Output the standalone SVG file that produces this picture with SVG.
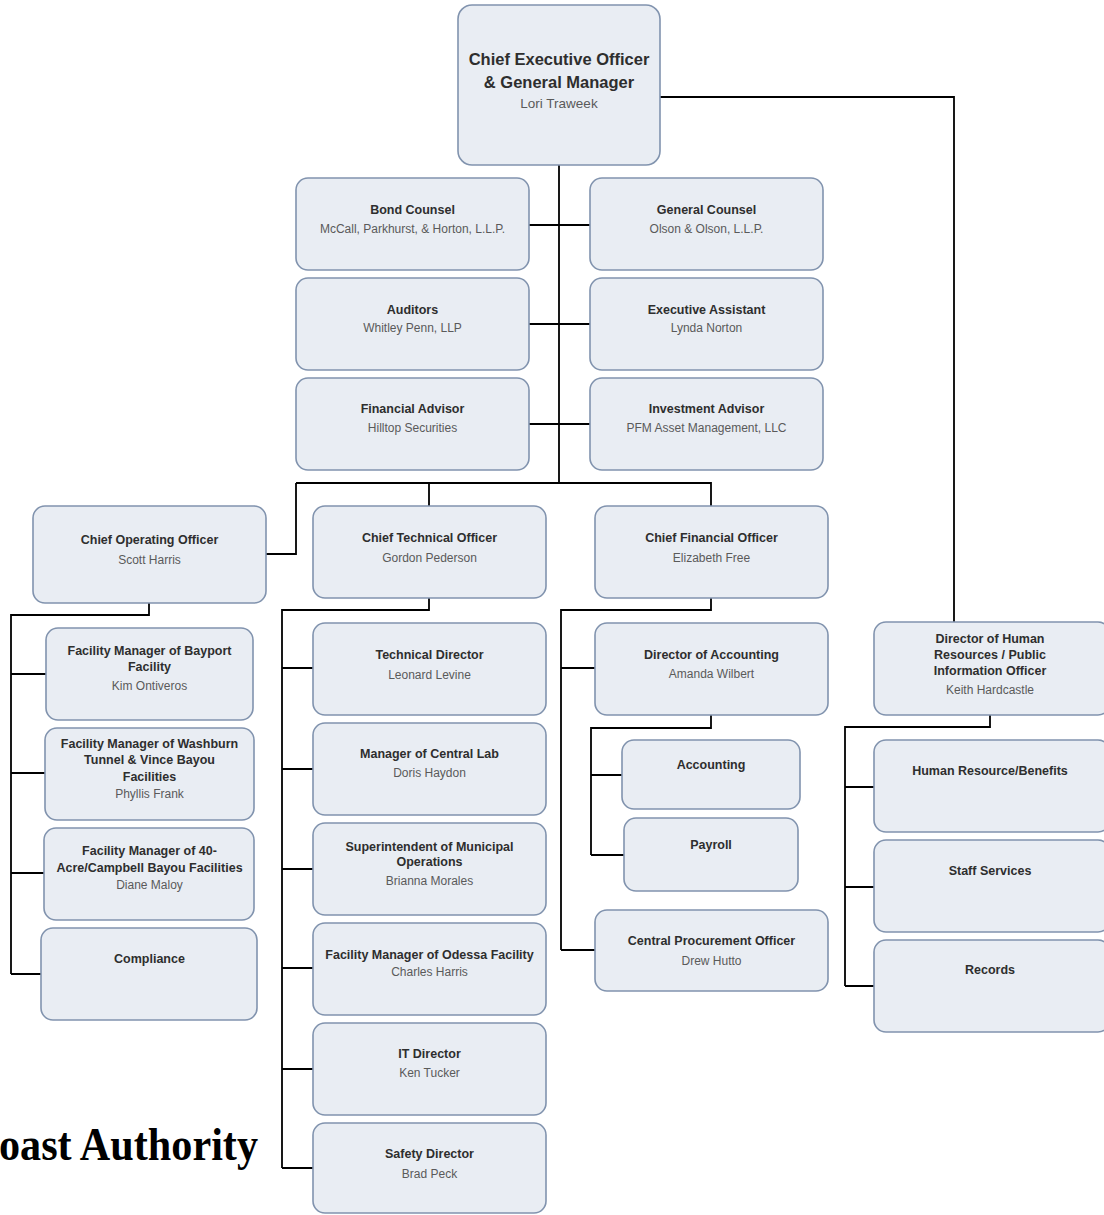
<svg xmlns="http://www.w3.org/2000/svg" width="1104" height="1215" viewBox="0 0 1104 1215">
<style>
.box{fill:#e9edf3;stroke:#8193ae;stroke-width:1.6}
.t{font-family:"Liberation Sans",Arial,sans-serif;font-weight:bold;font-size:12.5px;fill:#2e2e2e;text-anchor:middle}
.n{font-family:"Liberation Sans",Arial,sans-serif;font-size:12px;fill:#5a5a5a;text-anchor:middle}
.ct{font-family:"Liberation Sans",Arial,sans-serif;font-weight:bold;font-size:16.5px;fill:#2e2e2e;text-anchor:middle}
.cn{font-family:"Liberation Sans",Arial,sans-serif;font-size:13.5px;fill:#5a5a5a;text-anchor:middle}
.c{fill:none;stroke:#000;stroke-width:1.8}
</style>
<rect width="1104" height="1215" fill="#fff"/>
<g id="connectors">
<path class="c" d="M559 165V483M660 97H954V622"/>
<path class="c" d="M529 225H590M529 324H590M529 424H590"/>
<path class="c" d="M296 483H711V506M429 483V506M296 483V554H266"/>
<path class="c" d="M149 603V615H11V974M11 674H46M11 773H45M11 873H45M11 974H41"/>
<path class="c" d="M429 598V610H282V1168M282 668H313M282 769H313M282 869H313M282 968H313M282 1069H313M282 1168H313"/>
<path class="c" d="M711 598V610H561V950M561 668H595M561 950H595"/>
<path class="c" d="M711 715V728H591V855M591 775H622M591 855H624"/>
<path class="c" d="M990 715V727H845V986M845 787H874M845 887H874M845 986H874"/>
</g>
<g id="ceo"><rect class="box" x="458" y="5" width="202" height="160" rx="14"/>
<text class="ct" x="559" y="65">Chief Executive Officer</text><text class="ct" x="559" y="88">&amp; General Manager</text><text class="cn" x="559" y="108">Lori Traweek</text></g>
<g id="bond"><rect class="box" x="296" y="178" width="233" height="92" rx="12"/><text class="t" x="412.5" y="213.5">Bond Counsel</text><text class="n" x="412.5" y="233">McCall, Parkhurst, &amp; Horton, L.L.P.</text></g>
<g id="general"><rect class="box" x="590" y="178" width="233" height="92" rx="12"/><text class="t" x="706.5" y="213.5">General Counsel</text><text class="n" x="706.5" y="233">Olson &amp; Olson, L.L.P.</text></g>
<g id="auditors"><rect class="box" x="296" y="278" width="233" height="92" rx="12"/><text class="t" x="412.5" y="314">Auditors</text><text class="n" x="412.5" y="332">Whitley Penn, LLP</text></g>
<g id="execasst"><rect class="box" x="590" y="278" width="233" height="92" rx="12"/><text class="t" x="706.5" y="314">Executive Assistant</text><text class="n" x="706.5" y="332">Lynda Norton</text></g>
<g id="finadv"><rect class="box" x="296" y="378" width="233" height="92" rx="12"/><text class="t" x="412.5" y="413">Financial Advisor</text><text class="n" x="412.5" y="432">Hilltop Securities</text></g>
<g id="invadv"><rect class="box" x="590" y="378" width="233" height="92" rx="12"/><text class="t" x="706.5" y="413">Investment Advisor</text><text class="n" x="706.5" y="432">PFM Asset Management, LLC</text></g>
<g id="coo"><rect class="box" x="33" y="506" width="233" height="97" rx="12"/><text class="t" x="149.5" y="544">Chief Operating Officer</text><text class="n" x="149.5" y="564">Scott Harris</text></g>
<g id="cto"><rect class="box" x="313" y="506" width="233" height="92" rx="12"/><text class="t" x="429.5" y="542">Chief Technical Officer</text><text class="n" x="429.5" y="562">Gordon Pederson</text></g>
<g id="cfo"><rect class="box" x="595" y="506" width="233" height="92" rx="12"/><text class="t" x="711.5" y="542">Chief Financial Officer</text><text class="n" x="711.5" y="562">Elizabeth Free</text></g>
<g id="bayport"><rect class="box" x="46" y="628" width="207" height="92" rx="12"/><text class="t" x="149.5" y="655">Facility Manager of Bayport</text><text class="t" x="149.5" y="671">Facility</text><text class="n" x="149.5" y="690">Kim Ontiveros</text></g>
<g id="washburn"><rect class="box" x="45" y="728" width="209" height="92" rx="12"/><text class="t" x="149.5" y="748">Facility Manager of Washburn</text><text class="t" x="149.5" y="764">Tunnel &amp; Vince Bayou</text><text class="t" x="149.5" y="781">Facilities</text><text class="n" x="149.5" y="798">Phyllis Frank</text></g>
<g id="acre40"><rect class="box" x="44" y="828" width="210" height="92" rx="12"/><text class="t" x="149.5" y="855">Facility Manager of 40-</text><text class="t" x="149.5" y="872">Acre/Campbell Bayou Facilities</text><text class="n" x="149.5" y="889">Diane Maloy</text></g>
<g id="compliance"><rect class="box" x="41" y="928" width="216" height="92" rx="12"/><text class="t" x="149.5" y="963">Compliance</text></g>
<g id="techdir"><rect class="box" x="313" y="623" width="233" height="92" rx="12"/><text class="t" x="429.5" y="659">Technical Director</text><text class="n" x="429.5" y="679">Leonard Levine</text></g>
<g id="centrallab"><rect class="box" x="313" y="723" width="233" height="92" rx="12"/><text class="t" x="429.5" y="758">Manager of Central Lab</text><text class="n" x="429.5" y="777">Doris Haydon</text></g>
<g id="superintendent"><rect class="box" x="313" y="823" width="233" height="92" rx="12"/><text class="t" x="429.5" y="851">Superintendent of Municipal</text><text class="t" x="429.5" y="866">Operations</text><text class="n" x="429.5" y="885">Brianna Morales</text></g>
<g id="odessa"><rect class="box" x="313" y="923" width="233" height="92" rx="12"/><text class="t" x="429.5" y="959">Facility Manager of Odessa Facility</text><text class="n" x="429.5" y="976">Charles Harris</text></g>
<g id="itdir"><rect class="box" x="313" y="1023" width="233" height="92" rx="12"/><text class="t" x="429.5" y="1058">IT Director</text><text class="n" x="429.5" y="1077">Ken Tucker</text></g>
<g id="safety"><rect class="box" x="313" y="1123" width="233" height="90" rx="12"/><text class="t" x="429.5" y="1158">Safety Director</text><text class="n" x="429.5" y="1178">Brad Peck</text></g>
<g id="diracct"><rect class="box" x="595" y="623" width="233" height="92" rx="12"/><text class="t" x="711.5" y="659">Director of Accounting</text><text class="n" x="711.5" y="678">Amanda Wilbert</text></g>
<g id="accounting"><rect class="box" x="622" y="740" width="178" height="69" rx="12"/><text class="t" x="711" y="769">Accounting</text></g>
<g id="payroll"><rect class="box" x="624" y="818" width="174" height="73" rx="12"/><text class="t" x="711" y="849">Payroll</text></g>
<g id="procurement"><rect class="box" x="595" y="910" width="233" height="81" rx="12"/><text class="t" x="711.5" y="945">Central Procurement Officer</text><text class="n" x="711.5" y="965">Drew Hutto</text></g>
<g id="hrdir"><rect class="box" x="874" y="622" width="236" height="93" rx="12"/><text class="t" x="990" y="643">Director of Human</text><text class="t" x="990" y="659">Resources / Public</text><text class="t" x="990" y="675">Information Officer</text><text class="n" x="990" y="694">Keith Hardcastle</text></g>
<g id="hrbenefits"><rect class="box" x="874" y="740" width="236" height="92" rx="12"/><text class="t" x="990" y="775">Human Resource/Benefits</text></g>
<g id="staff"><rect class="box" x="874" y="840" width="236" height="92" rx="12"/><text class="t" x="990" y="875">Staff Services</text></g>
<g id="records"><rect class="box" x="874" y="940" width="236" height="92" rx="12"/><text class="t" x="990" y="974">Records</text></g>
<text x="-1" y="1160" font-family="'Liberation Serif','Times New Roman',serif" font-weight="bold" font-size="47" fill="#000" textLength="259" lengthAdjust="spacingAndGlyphs">oast Authority</text>
</svg>
